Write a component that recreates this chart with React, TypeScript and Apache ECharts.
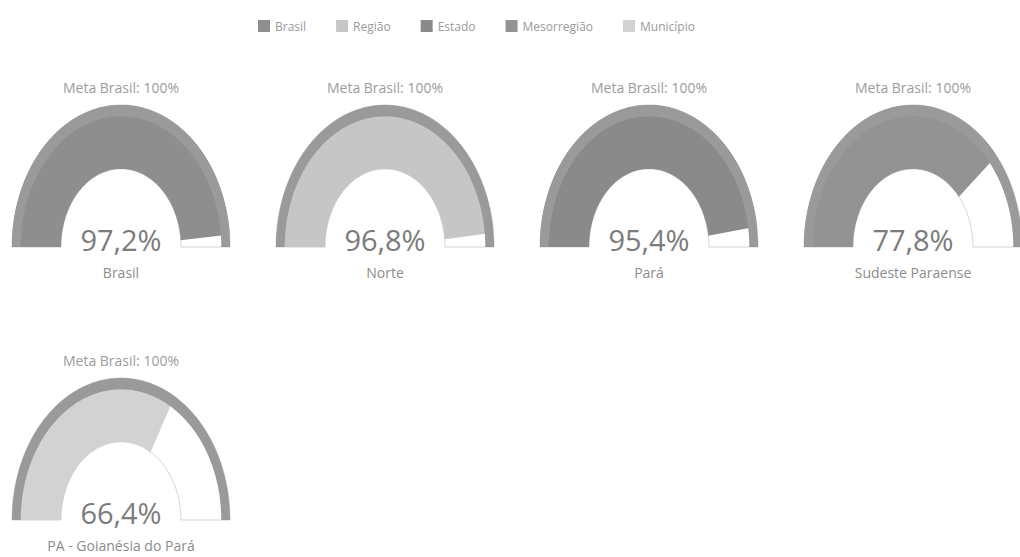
import React, { useEffect, useRef } from "react";
import * as echarts from "echarts";

const levels = ["Brasil", "Região", "Estado", "Mesorregião", "Município"];
const places = ["Brasil", "Norte", "Pará", "Sudeste Paraense", "PA - Goianésia do Pará"];
const values = [97.2, 96.8, 95.4, 77.8, 66.4];
const metas = [100, 100, 100, 100, 100];
const metaLabel = "Meta Brasil: 100%";

const levelColors = ["#8e8e8e", "#c6c6c6", "#8a8a8a", "#939393", "#d2d2d2"];
const FONT = "'Open Sans', 'DejaVu Sans', sans-serif";

function ringPoints(cx: number, cy: number, rx: number, ry: number, t0: number, t1: number, r0: number, r1: number) {
  const pts: number[][] = [];
  const steps = Math.max(2, Math.ceil((t1 - t0) * 180));
  for (let i = 0; i <= steps; i++) {
    const t = t0 + ((t1 - t0) * i) / steps;
    const a = Math.PI * (1 - t);
    pts.push([cx + rx * r1 * Math.cos(a), cy - ry * r1 * Math.sin(a)]);
  }
  for (let i = steps; i >= 0; i--) {
    const t = t0 + ((t1 - t0) * i) / steps;
    const a = Math.PI * (1 - t);
    pts.push([cx + rx * r0 * Math.cos(a), cy - ry * r0 * Math.sin(a)]);
  }
  return pts;
}

export default function App() {
  const ref = useRef<HTMLDivElement>(null);
  useEffect(() => {
    document.body.style.margin = "0";
    const chart = echarts.init(ref.current!, null, { renderer: "svg" });
    const RX = 109;
    const RY = 142;
    const IN = 0.55;
    const BAND = 0.92;
    const renderItem = (params: any, api: any) => {
      const idx = api.value(0);
      const v = api.value(1);
      const meta = api.value(2);
      const col = idx % 4;
      const row = Math.floor(idx / 4);
      const cx = 121 + col * 264;
      const cy = 247 + row * 273;
      const color = api.visual("color");
      return {
        type: "group",
        children: [
          {
            type: "polygon",
            shape: { points: ringPoints(cx, cy, RX, RY, 0, 1, IN, 1) },
            style: { fill: "#ffffff", stroke: "#d4d4d4", lineWidth: 1 },
          },
          {
            type: "polygon",
            shape: { points: ringPoints(cx, cy, RX, RY, 0, v / 100, IN, 1) },
            style: { fill: color },
          },
          {
            type: "polygon",
            shape: { points: ringPoints(cx, cy, RX, RY, 0, meta / 100, BAND, 1) },
            style: { fill: "#9a9a9a" },
          },
          {
            type: "text",
            style: {
              text: metaLabel,
              x: cx,
              y: cy - 160,
              align: "center",
              verticalAlign: "middle",
              fill: "#9c9c9c",
              font: `14px ${FONT}`,
            },
          },
          {
            type: "text",
            style: {
              text: v.toFixed(1).replace(".", ",") + "%",
              x: cx,
              y: cy - 8,
              align: "center",
              verticalAlign: "middle",
              fill: "#7c7c7c",
              font: `29px ${FONT}`,
            },
          },
          {
            type: "text",
            style: {
              text: places[idx],
              x: cx,
              y: cy + 25,
              align: "center",
              verticalAlign: "middle",
              fill: "#8c8c8c",
              font: `14px ${FONT}`,
            },
          },
        ],
      };
    };
    chart.setOption({
      animation: false,
      backgroundColor: "#ffffff",
      legend: {
        top: 15,
        left: 253,
        itemWidth: 12,
        itemHeight: 12,
        itemGap: 30,
        icon: "rect",
        selectedMode: false,
        textStyle: { color: "#9a9a9a", fontSize: 12, fontFamily: FONT },
        data: levels,
      },
      series: levels.map((name, i) => ({
        type: "custom",
        name,
        coordinateSystem: "none",
        itemStyle: { color: levelColors[i] },
        renderItem,
        data: [[i, values[i], metas[i]]],
      })),
    });
    return () => chart.dispose();
  }, []);
  return <div ref={ref} style={{ width: 1020, height: 557 }} />;
}
